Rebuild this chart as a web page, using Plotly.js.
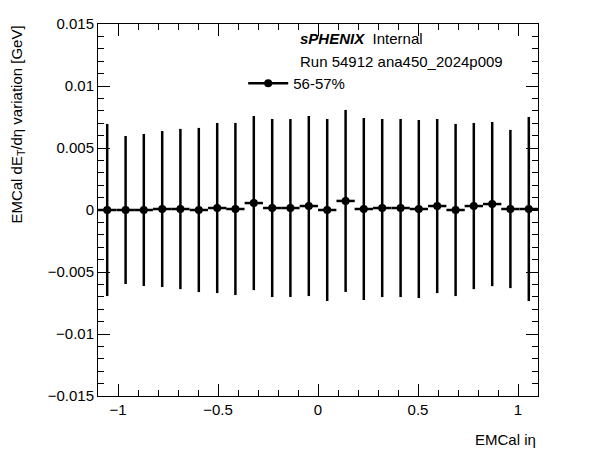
<!DOCTYPE html>
<html>
<head>
<script src="https://cdn.plot.ly/plotly-3.0.1.min.js"></script>
</head>
<body style="margin:0">
<div id="plot" style="width:596px;height:472px"></div>
<script>
// 24 EMCal eta bins from -1.1 to 1.1
var etaCenters = [-1.054, -0.962, -0.871, -0.779, -0.688, -0.596, -0.504, -0.413, -0.321, -0.229, -0.138, -0.046,
                  0.046, 0.138, 0.229, 0.321, 0.413, 0.504, 0.596, 0.688, 0.779, 0.871, 0.962, 1.054];
var binHalfWidth = 0.0458;
var variation = [0, 0, 0, 0.00008, 0.00008, 0, 0.00016, 0.00008, 0.00056, 0.00016, 0.00016, 0.00032,
                 0, 0.00073, 0.00008, 0.00016, 0.00016, 0.00008, 0.00032, 0, 0.00032, 0.00048, 0.00008, 0.00008];
var variationErr = [0.00694, 0.00597, 0.00613, 0.00629, 0.00646, 0.00662, 0.00686, 0.00694, 0.00702, 0.00718, 0.00718, 0.00726,
                    0.00734, 0.00734, 0.00734, 0.00718, 0.00718, 0.00718, 0.00702, 0.00694, 0.0067, 0.00662, 0.00638, 0.00742];
var legendLabel = "56-57%";

var traces = [
    {   type: "scatter", mode: "markers",
        x: etaCenters, y: variation,
        marker: {size: 8, color: "black"},
        error_y: {type: "data", array: variationErr, color: "black", thickness: 2.5, width: 0},
        error_x: {type: "constant", value: binHalfWidth, color: "black", thickness: 2.5, width: 0},
        showlegend: false
    },
    {   type: "scatter", mode: "lines+markers",
        x: [null], y: [null], name: legendLabel,
        marker: {size: 8, color: "black"},
        line: {color: "black", width: 2.5}
    }
];

var axisBase = {
    ticks: "inside", mirror: "allticks", showline: true, linecolor: "black", linewidth: 1,
    showgrid: false, zeroline: false, tickcolor: "black", ticklen: 12,
    tickfont: {size: 15, color: "black"}
};

var layout = {
    width: 596, height: 472,
    margin: {l: 98, r: 58, t: 24, b: 76},
    paper_bgcolor: "white", plot_bgcolor: "white",
    font: {family: "Liberation Sans, Arial, sans-serif", color: "black"},
    xaxis: Object.assign({}, axisBase, {
        range: [-1.1, 1.1], dtick: 0.5,
        minor: {ticks: "inside", ticklen: 6, tickcolor: "black", dtick: 0.1}
    }),
    yaxis: Object.assign({}, axisBase, {
        range: [-0.015, 0.015], dtick: 0.005,
        minor: {ticks: "inside", ticklen: 6, tickcolor: "black", dtick: 0.001}
    }),
    legend: {x: 0.33, y: 0.84, xanchor: "left", yanchor: "middle", bgcolor: "rgba(0,0,0,0)",
             font: {size: 15}, itemwidth: 40},
    annotations: [
        {xref: "paper", yref: "paper", x: 0.455, y: 0.96, xanchor: "left", yanchor: "middle", showarrow: false,
         text: "<b><i>sPHENIX</i></b>  Internal", font: {size: 15}},
        {xref: "paper", yref: "paper", x: 0.455, y: 0.898, xanchor: "left", yanchor: "middle", showarrow: false,
         text: "Run 54912 ana450_2024p009", font: {size: 15}},
        {xref: "paper", yref: "paper", x: 1.0, y: -0.118, xanchor: "right", yanchor: "middle", showarrow: false,
         text: "EMCal iη", font: {size: 15}},
        {xref: "paper", yref: "paper", x: -0.185, y: 1.0, xanchor: "center", yanchor: "top", showarrow: false,
         textangle: -90, text: "EMCal dE<sub>T</sub>/dη variation [GeV]", font: {size: 15}}
    ]
};

Plotly.newPlot("plot", traces, layout, {displayModeBar: false});
</script>
</body>
</html>
